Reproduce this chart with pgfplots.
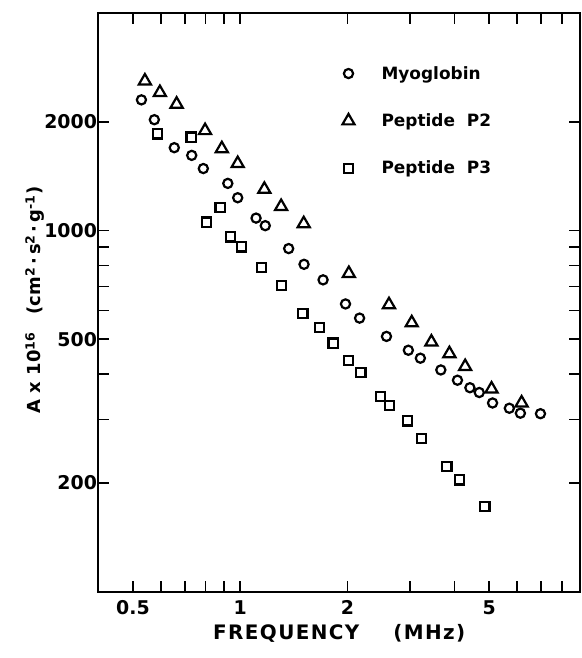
\documentclass[border=0pt]{standalone}
\usepackage{pgfplots}
\pgfplotsset{compat=1.18}
\usepackage{fontspec}
\setmainfont{DejaVu Sans}

\pgfplotstableread{
x y
0.540 2593
0.595 2409
0.663 2237
0.797 1890
0.888 1684
0.984 1532
1.169 1300
1.303 1165
1.508 1044
2.019 760
2.617 623
3.032 555
3.443 491
3.869 456
4.283 420
5.08 364
6.17 333
}\ptwo

\pgfplotstableread{
x y
0.528 2299
0.574 2026
0.653 1695
0.731 1614
0.788 1484
0.923 1350
0.984 1232
1.108 1082
1.176 1031
1.368 891
1.511 806
1.709 730
1.976 626
2.164 572
2.575 509
2.966 466
3.206 443
3.660 411
4.075 385
4.417 367
4.692 356
5.113 333
5.699 322
6.122 312
6.97 311
}\myo

\pgfplotstableread{
x y
0.585 1851
0.728 1813
0.805 1055
0.878 1156
0.941 960
1.010 901
1.148 789
1.305 703
1.500 590
1.669 538
1.823 488
2.015 436
2.182 405
2.476 347
2.630 328
2.947 297
3.227 266
3.804 222
4.121 204
4.868 172
}\pthree

\begin{document}
\begin{tikzpicture}
\path[use as bounding box] (0,0) rectangle (582bp,658bp);
\begin{axis}[
  at={(98.5bp,66.3bp)}, anchor=south west,
  scale only axis, width=481.5bp, height=578.7bp,
  xmode=log, ymode=log,
  xmin=0.4, xmax=9, ymin=100, ymax=4000,
  xtick={0.5,1,2,5}, xticklabels={0.5,1,2,5},
  minor xtick={0.6,0.7,0.8,0.9,3,4,6,7,8},
  ytick={200,500,1000,2000}, yticklabels={200,500,1000,2000},
  minor ytick={300,400,600,700,800,900},
  tick align=inside, major tick length=11bp, minor tick length=11bp,
  every tick/.style={line width=1.6bp, black},
  axis line style={line width=2bp},
  ticklabel style={font=\bfseries\fontsize{19}{19}\selectfont},
  xticklabel style={yshift=-5bp},
  yticklabel style={xshift=2bp},
  xlabel={\addfontfeature{LetterSpace=7}FREQUENCY\hspace{34bp}(MHz)},
  xlabel style={font=\bfseries\fontsize{20}{20}\selectfont, at={(axis description cs:0.5,-0.0714)}, anchor=center},
  ylabel={A x 10\textsuperscript{16}\hspace{18bp}(cm\textsuperscript{2}\,·\,s\textsuperscript{2}\,·\,g\textsuperscript{-1})},
  ylabel style={font=\bfseries\fontsize{18}{18}\selectfont, at={(axis description cs:-0.1319,0.504)}, anchor=center, rotate=0},
  legend style={draw=none, fill=none, font=\bfseries\fontsize{17}{17}\selectfont,
    at={(axis description cs:0.50,0.915)}, anchor=north west, row sep=29bp},
  legend cell align=left,
]
\addplot[only marks, mark=o, mark size=4.6bp, line width=2.2bp] table {\myo};
\addlegendentry{\hspace{25bp}Myoglobin}
\addplot[only marks, mark=triangle, mark size=7bp, line width=2.2bp] table {\ptwo};
\addlegendentry{\hspace{25bp}Peptide\ \ P2}
\addplot[only marks, mark=square, mark size=4.6bp, line width=2.2bp] table {\pthree};
\addlegendentry{\hspace{25bp}Peptide\ \ P3}
\end{axis}
\end{tikzpicture}
\end{document}
